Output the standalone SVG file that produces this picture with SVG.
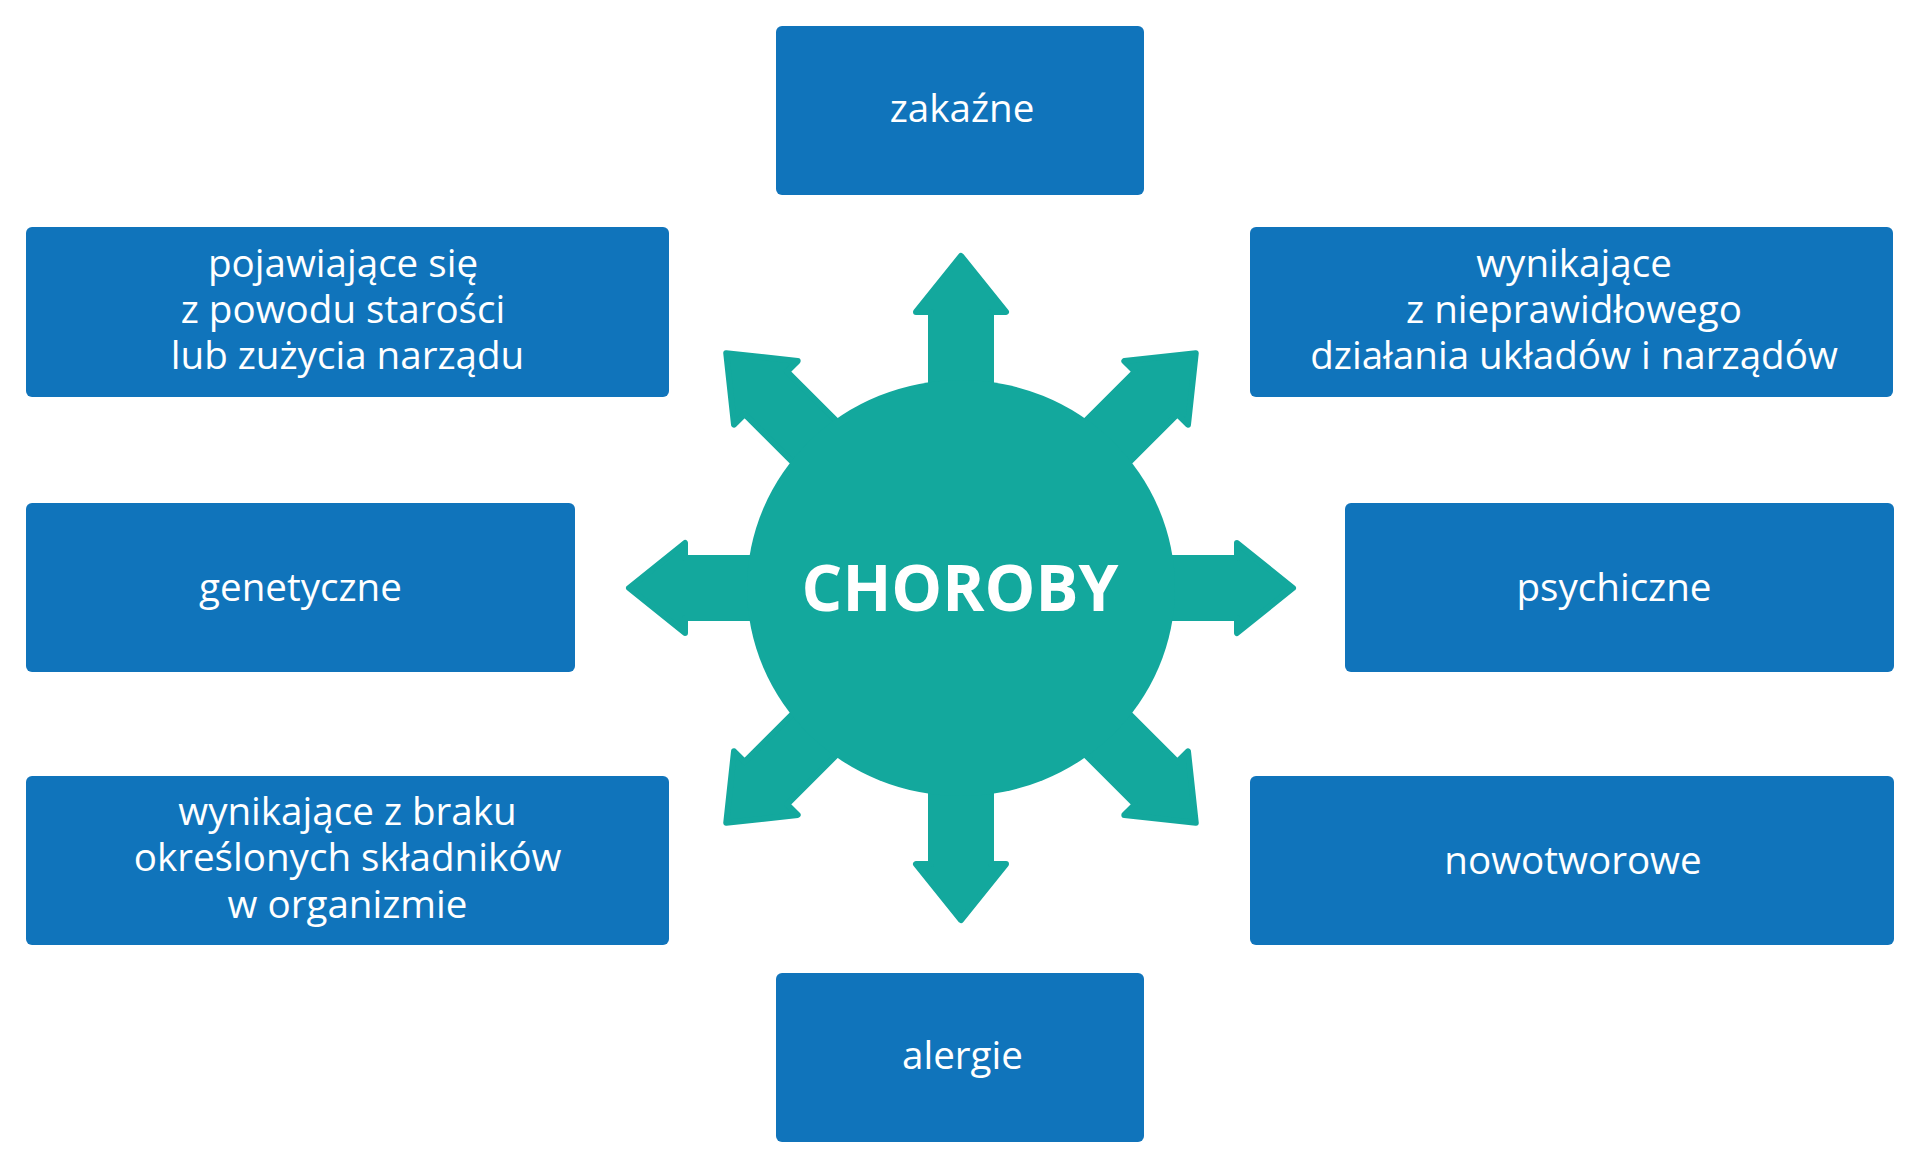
<svg xmlns="http://www.w3.org/2000/svg" width="1920" height="1168" viewBox="0 0 1920 1168">
  <style>
    .box { fill: #1074bb; }
    .lbl { fill: #ffffff; font-family: "Open Sans", "Noto Sans", "DejaVu Sans", sans-serif; font-size: 38.6px; text-anchor: middle; }
    .arrow { fill: #13a89d; stroke: #13a89d; stroke-width: 6; stroke-linejoin: round; }
    .hub { fill: #13a89d; }
    .title { fill: #ffffff; font-family: "Open Sans", "Noto Sans", "DejaVu Sans", sans-serif; font-size: 64px; font-weight: bold; text-anchor: middle; }
  </style>
  <defs>
    <polygon id="arr" points="-30,-150 -30,-276 -45,-276 0,-332 45,-276 30,-276 30,-150"/>
  </defs>
  <rect width="1920" height="1168" fill="#ffffff"/>

  <g id="connectors">
    <use href="#arr" class="arrow" transform="translate(961,588) rotate(0)"/>
    <use href="#arr" class="arrow" transform="translate(961,588) rotate(45)"/>
    <use href="#arr" class="arrow" transform="translate(961,588) rotate(90)"/>
    <use href="#arr" class="arrow" transform="translate(961,588) rotate(135)"/>
    <use href="#arr" class="arrow" transform="translate(961,588) rotate(180)"/>
    <use href="#arr" class="arrow" transform="translate(961,588) rotate(225)"/>
    <use href="#arr" class="arrow" transform="translate(961,588) rotate(270)"/>
    <use href="#arr" class="arrow" transform="translate(961,588) rotate(315)"/>
  </g>

  <g id="choroby">
    <ellipse class="hub" cx="961" cy="588" rx="214" ry="208"/>
    <text class="title" x="960" y="611">CHOROBY</text>
  </g>

  <g id="zakazne">
    <rect class="box" x="776" y="26" width="368" height="169" rx="6"/>
    <text class="lbl" x="962" y="122">zakaźne</text>
  </g>

  <g id="starosc">
    <rect class="box" x="26" y="227" width="643" height="170" rx="6"/>
    <text class="lbl" x="343" y="277">pojawiające się</text>
    <text class="lbl" x="343" y="323">z powodu starości</text>
    <text class="lbl" x="347.5" y="369">lub zużycia narządu</text>
  </g>

  <g id="nieprawidlowe">
    <rect class="box" x="1250" y="227" width="643" height="170" rx="6"/>
    <text class="lbl" x="1574" y="277">wynikające</text>
    <text class="lbl" x="1574" y="323">z nieprawidłowego</text>
    <text class="lbl" x="1574" y="369">działania układów i narządów</text>
  </g>

  <g id="genetyczne">
    <rect class="box" x="26" y="503" width="549" height="169" rx="6"/>
    <text class="lbl" x="300.5" y="601">genetyczne</text>
  </g>

  <g id="psychiczne">
    <rect class="box" x="1345" y="503" width="549" height="169" rx="6"/>
    <text class="lbl" x="1614" y="601">psychiczne</text>
  </g>

  <g id="braku">
    <rect class="box" x="26" y="776" width="643" height="169" rx="6"/>
    <text class="lbl" x="347.5" y="825">wynikające z braku</text>
    <text class="lbl" x="347.5" y="871">określonych składników</text>
    <text class="lbl" x="347.5" y="918">w organizmie</text>
  </g>

  <g id="nowotworowe">
    <rect class="box" x="1250" y="776" width="644" height="169" rx="6"/>
    <text class="lbl" x="1573" y="874">nowotworowe</text>
  </g>

  <g id="alergie">
    <rect class="box" x="776" y="973" width="368" height="169" rx="6"/>
    <text class="lbl" x="962.5" y="1069">alergie</text>
  </g>
</svg>
